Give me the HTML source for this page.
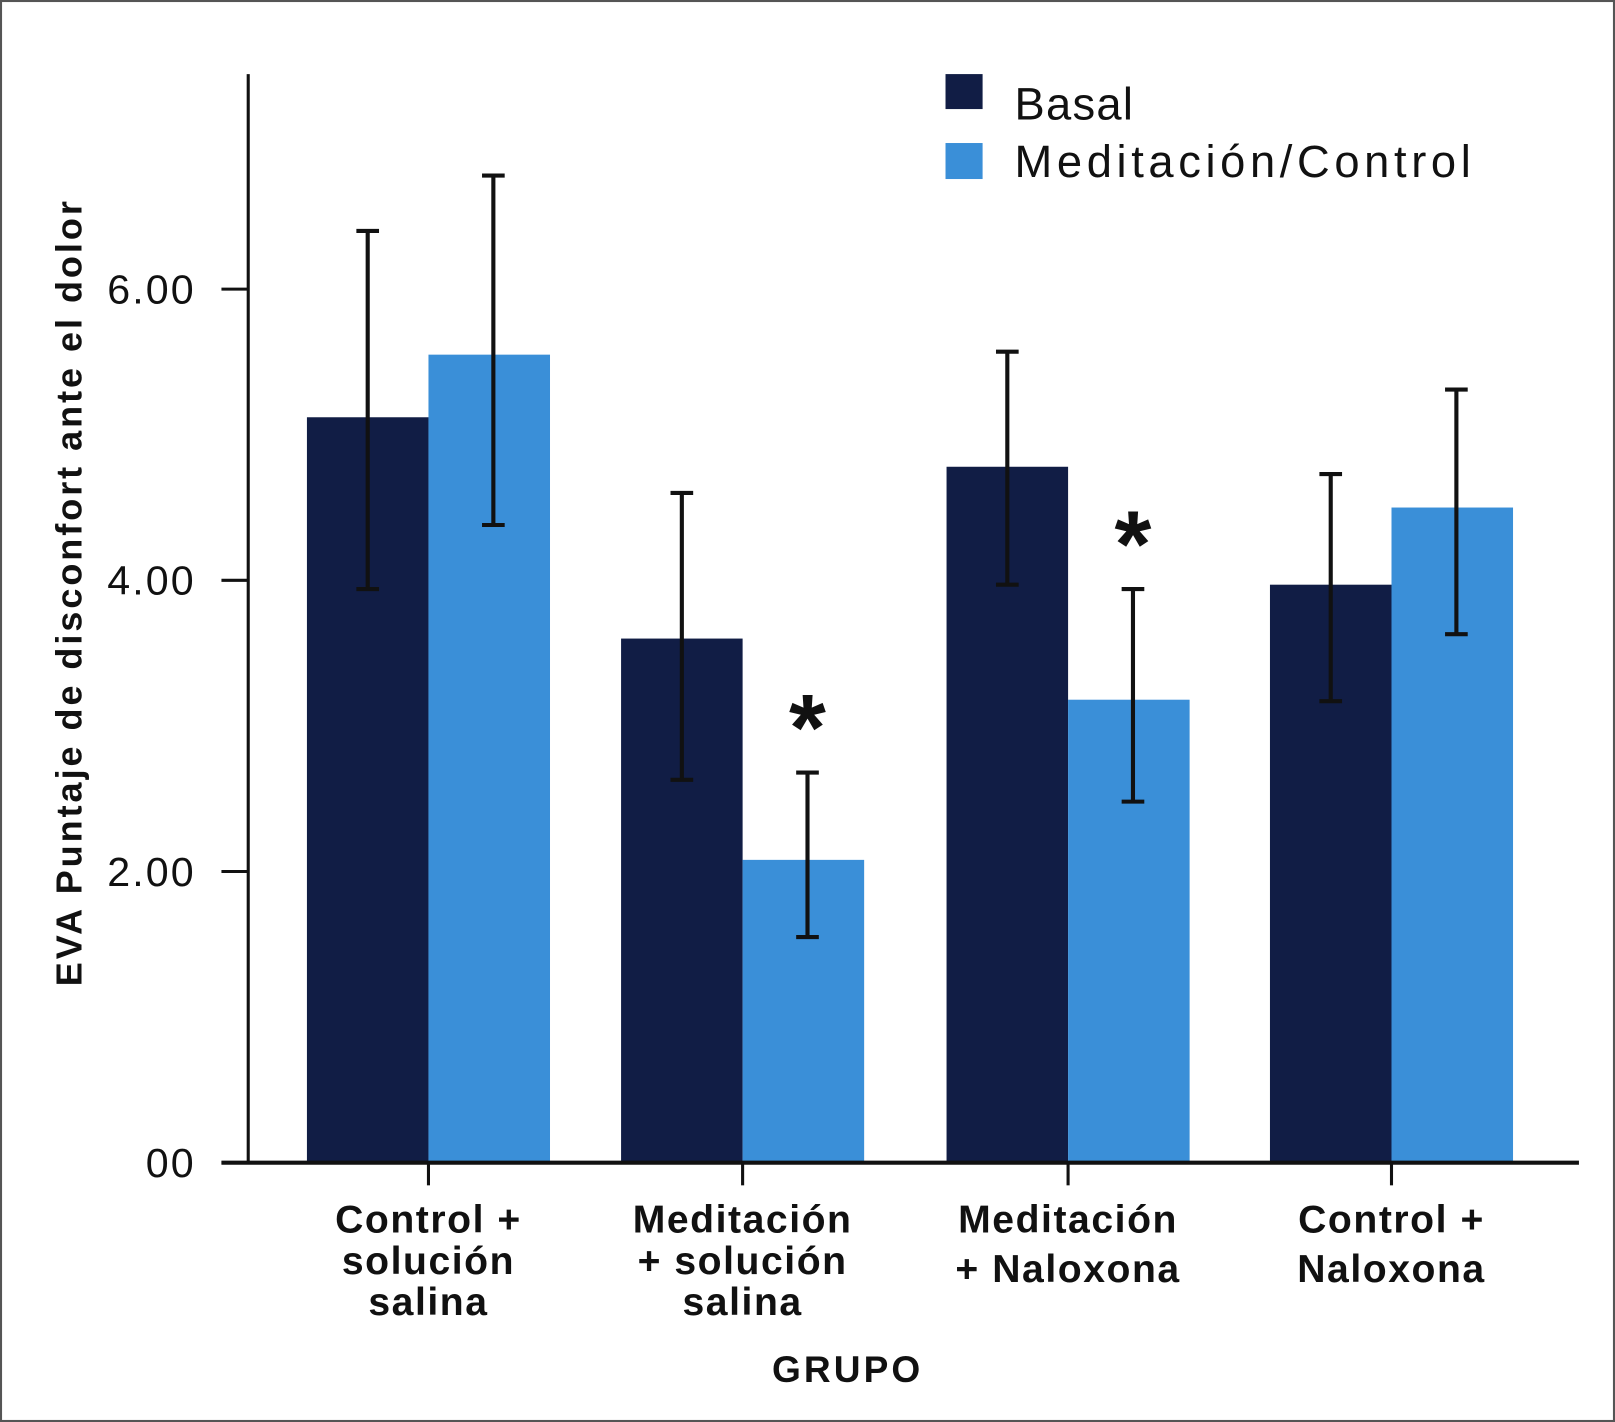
<!DOCTYPE html>
<html><head><meta charset="utf-8"><style>
html,body{margin:0;padding:0;background:#fff;}
svg{display:block;}
text{font-family:"Liberation Sans",sans-serif;fill:#111;}
</style></head><body>
<svg id="chart" width="1615" height="1422" viewBox="0 0 1568 1382" preserveAspectRatio="none" xmlns="http://www.w3.org/2000/svg">
<rect x="1" y="1" width="1566" height="1380" fill="#fff" stroke="#555" stroke-width="2"/>
<g id="bars"></g>
<g id="errs"></g>
<line x1="241" y1="72" x2="241" y2="1131" stroke="#111" stroke-width="3"/>
<line x1="215" y1="1130" x2="1533" y2="1130" stroke="#111" stroke-width="4"/>
<g id="yticks"></g>
<g id="xlabels"></g>
<text transform="translate(79,577) rotate(-90)" text-anchor="middle" font-size="35" font-weight="bold" textLength="763" lengthAdjust="spacing">EVA Puntaje de disconfort ante el dolor</text>
<text x="823" y="1343" text-anchor="middle" font-size="36" font-weight="bold" letter-spacing="3">GRUPO</text>
<rect x="918" y="72" width="36" height="34" fill="#111d45"/>
<text x="985" y="116" font-size="44" textLength="115" lengthAdjust="spacing">Basal</text>
<rect x="918" y="139" width="36" height="35" fill="#3a8fd8"/>
<text x="985" y="172" font-size="44" textLength="443" lengthAdjust="spacing">Meditación/Control</text>
</svg>
<script>
const categories=[["Control +","solución","salina"],["Meditación","+ solución","salina"],["Meditación","+ Naloxona"],["Control +","Naloxona"]];
const basal=[5.12,3.60,4.78,3.97];
const meditacion=[5.55,2.08,3.18,4.50];
const basalHi=[6.40,4.60,5.57,4.73];
const basalLo=[3.94,2.63,3.97,3.17];
const medHi=[6.78,2.68,3.94,5.31];
const medLo=[4.38,1.55,2.48,3.63];
const significant=[false,true,true,false];
const yTicks=[0,2,4,6];
const yTickLabels=["00","2.00","4.00","6.00"];
const NS="http://www.w3.org/2000/svg";
const centers=[416,721,1037,1351];
const barW=118;
function y(v){return 1130-v*141.5;}
function mk(tag,attrs,parent){const e=document.createElementNS(NS,tag);for(const k in attrs)e.setAttribute(k,attrs[k]);parent.appendChild(e);return e;}
const gb=document.getElementById('bars'),ge=document.getElementById('errs'),gy=document.getElementById('yticks'),gx=document.getElementById('xlabels');
function err(cx,hi,lo,name){
  const l=mk('path',{d:`M${cx},${y(hi)}V${y(lo)}M${cx-11},${y(hi)}H${cx+11}M${cx-11},${y(lo)}H${cx+11}`,stroke:'#111','stroke-width':4,fill:'none'},ge);
  
  
}
categories.forEach((c,i)=>{
  const cx=centers[i];
  const b=mk('rect',{x:cx-barW,y:y(basal[i]),width:barW,height:y(0)-y(basal[i]),fill:'#111d45'},gb);
  
  
  const m=mk('rect',{x:cx,y:y(meditacion[i]),width:barW,height:y(0)-y(meditacion[i]),fill:'#3a8fd8'},gb);
  
  
  err(cx-barW/2,basalHi[i],basalLo[i],'error-bar-basal-'+(i+1));
  err(cx+barW/2+4,medHi[i],medLo[i],'error-bar-meditacion-'+(i+1));
  if(significant[i]){
    const s=mk('text',{x:cx+barW/2+4,y:y(medHi[i])-12,'text-anchor':'middle','font-size':92,'font-weight':'bold'},ge);
    s.textContent='*';
    
    
  }
  const t=mk('line',{x1:cx,y1:1130,x2:cx,y2:1152,stroke:'#111','stroke-width':3},gx);
  
  
  const step=c.length===3?40:48;
  c.forEach((line,j)=>{
    const tx=mk('text',{x:cx,y:1198+j*step,'text-anchor':'middle','font-size':38,'font-weight':'bold','letter-spacing':1.5},gx);
    tx.textContent=line;
    
    
  });
});
yTicks.forEach((v,i)=>{
  const t=mk('line',{x1:215,y1:y(v),x2:241,y2:y(v),stroke:'#111','stroke-width':3},gy);
  
  
  const l=mk('text',{x:190,y:y(v)+14,'text-anchor':'end','font-size':40,'letter-spacing':2},gy);
  l.textContent=yTickLabels[i];
  
  
});
</script>
</body></html>
